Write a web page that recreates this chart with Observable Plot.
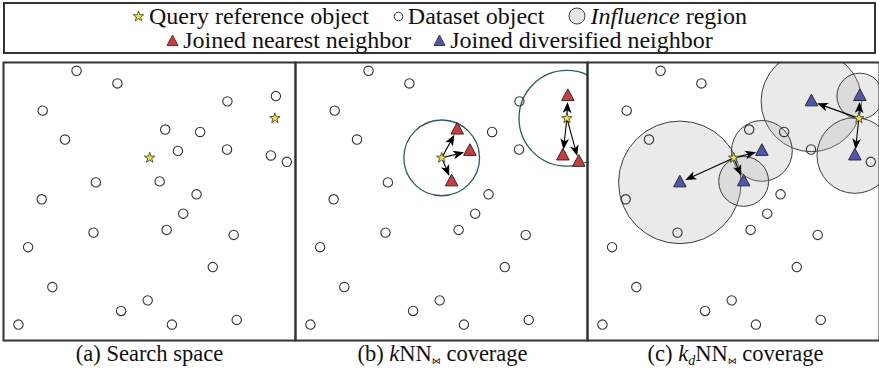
<!DOCTYPE html>
<html><head><meta charset="utf-8">
<script src="https://cdn.jsdelivr.net/npm/d3@7"></script>
<script src="https://cdn.jsdelivr.net/npm/@observablehq/plot@0.6"></script>
<style>
html,body{margin:0;padding:0;overflow:hidden;background:#fff;width:879px;height:370px;}
body{font-family:"Liberation Serif","Times New Roman",serif;color:#111;position:relative;}
#legend{position:absolute;left:3px;top:2px;width:873px;height:52px;border:2px solid #333;box-sizing:border-box;padding-top:0px;}
.row{display:flex;justify-content:center;align-items:center;height:24px;font-size:24px;line-height:24px;white-space:nowrap;}
.row1 .item{margin:0 12px;}
.row2 .item{margin:0 11px;}
.item{display:flex;align-items:center;}
.item svg{margin-right:4px;}
#chart{position:absolute;left:0;top:60px;}
#captions{position:absolute;left:3px;top:341px;display:flex;}
#captions div{width:293px;text-align:center;font-size:22.5px;line-height:26px;white-space:nowrap;}
.join{font-family:"DejaVu Sans",sans-serif;font-size:9px;vertical-align:-3px;}
sub.d{font-size:14px;vertical-align:-4px;}
</style></head>
<body>
<div id="legend">
  <div class="row row1">
    <span class="item"><svg width="13" height="13" viewBox="-6.5 -6.5 13 13"><path d="M0,-5.5L1.3,-1.8L5.2,-1.8L2.1,0.7L3.3,4.4L0,2.1L-3.3,4.4L-2.1,0.7L-5.2,-1.8L-1.3,-1.8Z" fill="#f5e52a" stroke="#333" stroke-width="0.8"/></svg>Query reference object</span>
    <span class="item"><svg width="11" height="11" viewBox="-5.5 -5.5 11 11"><circle r="4.3" fill="#fff" stroke="#333" stroke-width="1"/></svg>Dataset object</span>
    <span class="item"><svg width="18" height="18" viewBox="-9 -9 18 18"><circle r="8" fill="#e6e6e6" stroke="#444" stroke-width="1"/></svg><i>Influence</i>&nbsp;region</span>
  </div>
  <div class="row row2">
    <span class="item"><svg width="13" height="13" viewBox="-6.5 -7 13 13"><path d="M0,-6L5.5,4.5L-5.5,4.5Z" fill="#d23a3a" stroke="#333" stroke-width="0.9"/></svg>Joined nearest neighbor</span>
    <span class="item"><svg width="13" height="13" viewBox="-6.5 -7 13 13"><path d="M0,-6L5.5,4.5L-5.5,4.5Z" fill="#5055b4" stroke="#333" stroke-width="0.9"/></svg>Joined diversified neighbor</span>
  </div>
</div>
<div id="chart"></div>
<div id="captions">
  <div>(a) Search space</div>
  <div>(b) <i>k</i>NN<span class="join">⋈</span> coverage</div>
  <div>(c) <i>k<sub class="d">d</sub></i>NN<span class="join">⋈</span> coverage</div>
</div>
<script>
// Dataset objects (panel-local coordinates)
const pointX = [73.3,114.3,39.3,224.7,273.3,61.7,162.3,197.3,175,224.3,268.3,284.3,92.7,156.7,193.7,38.3,180.3,90.3,163.7,231,24.7,210,49,144.7,118,15,169,234];
const pointY = [8.3,21,48.3,39,33.7,77.3,67.3,69.7,88.7,87.3,93.3,99.7,120.3,119.3,132.3,137.3,151.7,170.7,168,173,185.3,205.3,225.3,238.7,249.3,263,263,258.3];
// Query reference objects
const starX = [146.7, 272.3];
const starY = [95.7, 56];
// kNN join neighbours (1-based point ids) per query, and coverage radii
const knnNeighbors = [[7, 9, 14], [5, 11, 12]];
const knnRadius = [38, 48];
// diversified neighbours per query and their influence radii
const divNeighbors = [[13, 9, 14], [4, 5, 11]];
const divRadius = [[61.5, 30.5, 25], [50.5, 23, 38]];
const panels = ["a", "b", "c"];

const knnSet = new Set(knnNeighbors.flat());
const divSet = new Set(divNeighbors.flat());

const dataset = [];
panels.forEach(p => {
  pointX.forEach((x, i) => {
    const id = i + 1;
    if (p === "b" && knnSet.has(id)) return;
    if (p === "c" && divSet.has(id)) return;
    dataset.push({panel: p, x, y: pointY[i]});
  });
});
const stars = [];
panels.forEach(p => starX.forEach((x, i) => stars.push({panel: p, x, y: starY[i]})));

const knnCircles = starX.map((x, i) => ({panel: "b", x, y: starY[i], r: knnRadius[i]}));
const regions = [];
divNeighbors.forEach((ids, q) => ids.forEach((id, j) =>
  regions.push({panel: "c", x: pointX[id - 1], y: pointY[id - 1], r: divRadius[q][j]})));

const triangles = [];
const arrows = [];
function addJoin(panel, groups, color) {
  groups.forEach((ids, q) => ids.forEach(id => {
    const nx = pointX[id - 1], ny = pointY[id - 1];
    const sx = starX[q], sy = starY[q];
    const dx = nx - sx, dy = ny - sy, d = Math.hypot(dx, dy);
    const ux = dx / d, uy = dy / d;
    const tipX = nx - ux * 6, tipY = ny - uy * 6;
    triangles.push({panel, x: nx, y: ny, color});
    arrows.push({panel, x1: sx + ux * 2, y1: sy + uy * 2, x2: tipX - ux * 6, y2: tipY - uy * 6,
      tx: tipX, ty: tipY, angle: Math.atan2(dx, -dy) * 180 / Math.PI});
  }));
}
addJoin("b", knnNeighbors, "#d23a3a");
addJoin("c", divNeighbors, "#5055b4");

const triSym = {draw(c) { c.moveTo(0, -7.2); c.lineTo(6.3, 4.5); c.lineTo(-6.3, 4.5); c.closePath(); }};
const headSym = {draw(c) { c.moveTo(0, 0); c.lineTo(4.4, 11); c.lineTo(0, 8.2); c.lineTo(-4.4, 11); c.closePath(); }};

const chart = Plot.plot({
  width: 882, height: 283,
  marginLeft: 3, marginRight: 0, marginTop: 2, marginBottom: 2,
  fx: {domain: panels, padding: 0, axis: null},
  x: {domain: [0, 293], axis: null},
  y: {domain: [0, 279], reverse: true, axis: null},
  r: {type: "identity"},
  marks: [
    Plot.dot(regions, {fx: "panel", x: "x", y: "y", r: "r", fill: "#b4b4b4", fillOpacity: 0.28, stroke: "#3c3c3c", strokeWidth: 1, clip: true}),
    Plot.dot(dataset, {fx: "panel", x: "x", y: "y", r: 4.7, fill: "none", stroke: "#333", strokeWidth: 1.1}),
    Plot.dot(knnCircles, {fx: "panel", x: "x", y: "y", r: "r", fill: "none", stroke: "#245e5c", strokeWidth: 1.3, clip: true}),
    Plot.link(arrows, {fx: "panel", x1: "x1", y1: "y1", x2: "x2", y2: "y2", stroke: "#000", strokeWidth: 1.1}),
    Plot.dot(arrows, {fx: "panel", x: "tx", y: "ty", rotate: "angle", symbol: headSym, r: 3, fill: "#000", stroke: "none"}),
    Plot.dot(triangles, {fx: "panel", x: "x", y: "y", symbol: triSym, r: 4, fill: "color", stroke: "#2a2a2a", strokeWidth: 1}),
    Plot.dot(stars, {fx: "panel", x: "x", y: "y", symbol: "star", r: 3.3, fill: "#f5e52a", stroke: "#333", strokeWidth: 0.8}),
    Plot.frame({stroke: "#333", strokeWidth: 2})
  ]
});
document.getElementById("chart").appendChild(chart);
</script>
</body></html>
